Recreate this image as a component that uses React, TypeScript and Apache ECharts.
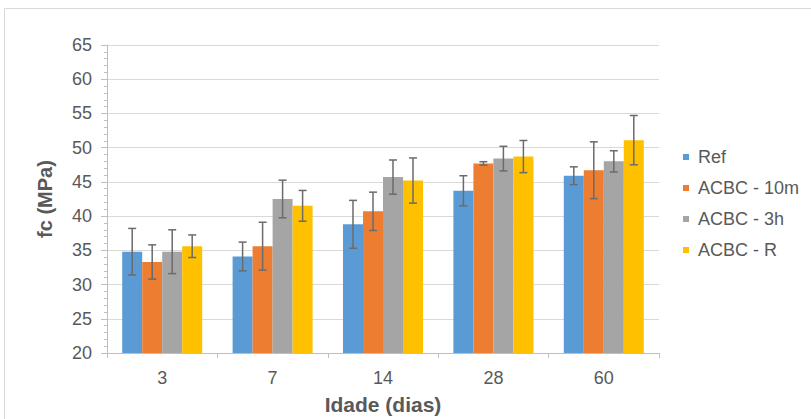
import React, { useEffect, useRef } from "react";
import * as echarts from "echarts";

const categories = ["3", "7", "14", "28", "60"];
const seriesNames = ["Ref", "ACBC - 10m", "ACBC - 3h", "ACBC - R"];
const colors = ["#5B9BD5", "#ED7D31", "#A5A5A5", "#FFC000"];

const refValues = [34.8, 34.1, 38.8, 43.7, 45.9];
const acbc10mValues = [33.3, 35.6, 40.7, 47.7, 46.7];
const acbc3hValues = [34.8, 42.5, 45.7, 48.4, 48.0];
const acbcRValues = [35.6, 41.5, 45.2, 48.7, 51.1];

const refErrors = [3.4, 2.1, 3.5, 2.2, 1.3];
const acbc10mErrors = [2.5, 3.5, 2.8, 0.25, 4.15];
const acbc3hErrors = [3.2, 2.75, 2.5, 1.8, 1.55];
const acbcRErrors = [1.65, 2.25, 3.3, 2.35, 3.6];

const yTicks = { min: 20, max: 65, interval: 5 };

const allValues = [refValues, acbc10mValues, acbc3hValues, acbcRValues];
const allErrors = [refErrors, acbc10mErrors, acbc3hErrors, acbcRErrors];

const BAR_W = 20;
const TEXT = "#595959";
const FONT = "Liberation Sans, Arial, sans-serif";

export default function App() {
  const ref = useRef<HTMLDivElement>(null);
  useEffect(() => {
    if (!ref.current) return;
    const chart = echarts.init(ref.current, null, { renderer: "svg" });
    const barSeries = seriesNames.map((name, i) => ({
      name,
      type: "bar",
      data: allValues[i],
      barWidth: BAR_W,
      barGap: "0%",
      itemStyle: { color: colors[i] },
      z: 2,
    }));
    const errSeries = seriesNames.map((name, i) => ({
      name: name + "-err",
      type: "custom",
      z: 5,
      silent: true,
      data: allValues[i].map((v, ci) => [ci, v, allErrors[i][ci]]),
      encode: { x: 0, y: 1 },
      renderItem: (params: any, api: any) => {
        const ci = api.value(0);
        const v = api.value(1);
        const e = api.value(2);
        const top = api.coord([ci, v + e]);
        const bot = api.coord([ci, v - e]);
        const x = top[0] + (i - 1.5) * BAR_W;
        const cap = 4;
        const style = { stroke: "#6b6b6b", lineWidth: 1.5 };
        return {
          type: "group",
          children: [
            { type: "line", shape: { x1: x, y1: top[1], x2: x, y2: bot[1] }, style },
            { type: "line", shape: { x1: x - cap, y1: top[1], x2: x + cap, y2: top[1] }, style },
            { type: "line", shape: { x1: x - cap, y1: bot[1], x2: x + cap, y2: bot[1] }, style },
          ],
        };
      },
    }));
    chart.setOption({
      animation: false,
      textStyle: { fontFamily: FONT },
      graphic: [
        {
          type: "rect",
          shape: { x: 4.5, y: 8.5, width: 820, height: 430 },
          style: { fill: "none", stroke: "#D9D9D9", lineWidth: 1 },
        },
      ],
      grid: { left: 107, right: 152, top: 45, bottom: 66, outerBoundsMode: "none" },
      legend: {
        orient: "vertical",
        left: 678,
        top: 143,
        itemWidth: 6,
        itemHeight: 6,
        itemGap: 13,
        icon: "rect",
        data: seriesNames,
        textStyle: { color: TEXT, fontSize: 18, lineHeight: 18, fontFamily: FONT, padding: [0, 0, 0, 4] },
      },
      xAxis: {
        type: "category",
        data: categories,
        name: "Idade (dias)",
        nameLocation: "middle",
        nameGap: 41,
        nameTextStyle: { color: TEXT, fontSize: 21, fontWeight: "bold", fontFamily: FONT },
        axisLine: { lineStyle: { color: "#BFBFBF", width: 1 } },
        axisTick: { show: true, length: 5, lineStyle: { color: "#BFBFBF" } },
        axisLabel: { color: TEXT, fontSize: 18, margin: 16, fontFamily: FONT },
      },
      yAxis: {
        type: "value",
        min: yTicks.min,
        max: yTicks.max,
        interval: yTicks.interval,
        name: "fc (MPa)",
        nameLocation: "middle",
        nameGap: 52,
        nameRotate: 90,
        nameTextStyle: { color: TEXT, fontSize: 20, fontWeight: "bold", fontFamily: FONT },
        axisLine: { show: true, lineStyle: { color: "#BFBFBF", width: 1 } },
        axisTick: { show: true, length: 6, lineStyle: { color: "#BFBFBF" } },
        minorTick: { show: true, splitNumber: 5, length: 3, lineStyle: { color: "#BFBFBF" } },
        axisLabel: { color: TEXT, fontSize: 18, margin: 15, fontFamily: FONT },
        splitLine: { show: true, lineStyle: { color: "#D9D9D9", width: 1 } },
      },
      series: [...barSeries, ...errSeries],
    });
    return () => chart.dispose();
  }, []);
  return (
    <div
      ref={ref}
      style={{ position: "fixed", left: 0, top: 0, width: 811, height: 419, background: "#fff" }}
    />
  );
}
